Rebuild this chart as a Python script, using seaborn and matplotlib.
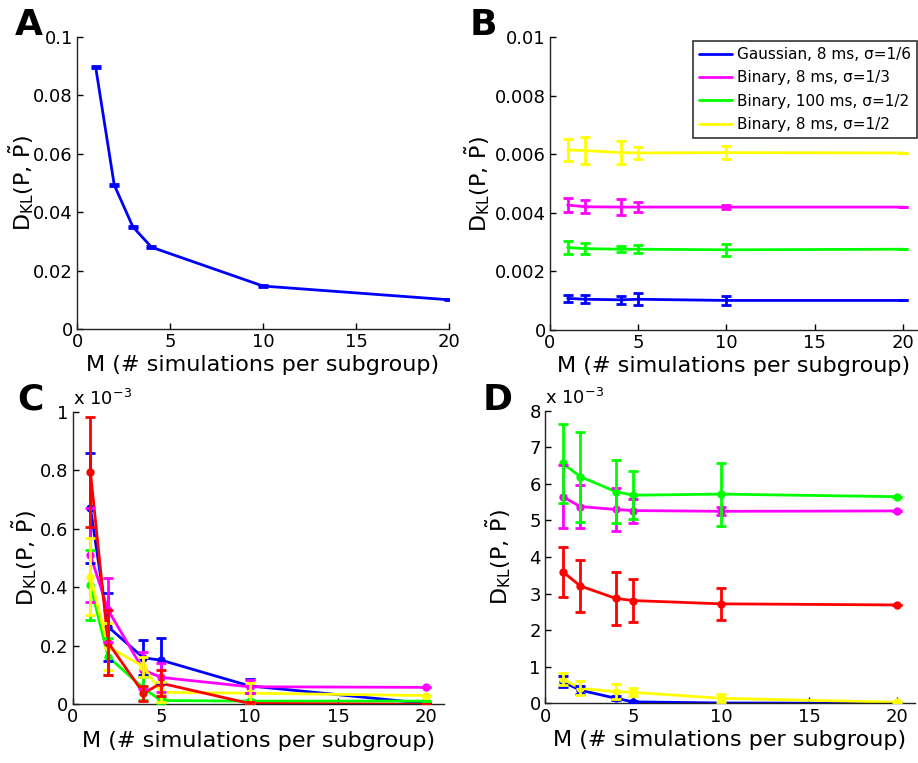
import numpy as np
import pandas as pd
import matplotlib
matplotlib.use('Agg')
import matplotlib.pyplot as plt
import seaborn as sns
from matplotlib.ticker import FuncFormatter

# ---- data ----
# panel A: one series, M = 1..4, 10, 20
a_m = [1, 2, 3, 4, 10, 20]
a_d = [0.0897, 0.0493, 0.0350, 0.0280, 0.0147, 0.0100]
a_err = [0.0004, 0.0003, 0.0003, 0.0003, 0.0002, 0.0001]

# panels B-D share the same M values
m_vals = [1, 2, 4, 5, 10, 20]

names = ['Gaussian, 8 ms, σ=1/6', 'Binary, 8 ms, σ=1/3',
         'Binary, 100 ms, σ=1/2', 'Binary, 8 ms, σ=1/2', 'other']
colors = ['#0000ff', '#ff00ff', '#00ff00', '#ffff00', '#ff0000']

# panel B (four series, no red)
b_d = {
    names[0]: [0.00108, 0.00105, 0.00103, 0.00105, 0.00101, 0.00101],
    names[1]: [0.00427, 0.00421, 0.00420, 0.00420, 0.00420, 0.00420],
    names[2]: [0.00282, 0.00278, 0.00276, 0.00276, 0.00274, 0.00276],
    names[3]: [0.00615, 0.00613, 0.00606, 0.00605, 0.00606, 0.00605],
}
b_err = {
    names[0]: [0.00013, 0.00014, 0.00014, 0.00020, 0.00014, 0.0],
    names[1]: [0.00025, 0.00022, 0.00026, 0.00018, 0.00006, 0.0],
    names[2]: [0.00023, 0.00020, 0.00011, 0.00013, 0.00020, 0.0],
    names[3]: [0.00038, 0.00047, 0.00040, 0.00020, 0.00023, 0.0],
}

# panel C, values in units of 1e-3
c_d = {
    names[0]: [0.672, 0.265, 0.159, 0.151, 0.063, 0.003],
    names[1]: [0.510, 0.322, 0.117, 0.092, 0.060, 0.058],
    names[2]: [0.408, 0.163, 0.055, 0.013, 0.011, 0.011],
    names[3]: [0.436, 0.197, 0.129, 0.041, 0.038, 0.030],
    names[4]: [0.795, 0.211, 0.038, 0.072, 0.003, 0.000],
}
c_err = {
    names[0]: [0.188, 0.117, 0.060, 0.077, 0.023, 0.0],
    names[1]: [0.160, 0.110, 0.063, 0.050, 0.023, 0.0],
    names[2]: [0.120, 0.063, 0.040, 0.008, 0.005, 0.0],
    names[3]: [0.131, 0.080, 0.034, 0.034, 0.034, 0.0],
    names[4]: [0.188, 0.110, 0.025, 0.045, 0.005, 0.0],
}

# panel D, values in units of 1e-3
d_d = {
    names[0]: [0.59, 0.36, 0.14, 0.04, 0.01, 0.00],
    names[1]: [5.65, 5.38, 5.30, 5.27, 5.25, 5.26],
    names[2]: [6.56, 6.20, 5.79, 5.69, 5.72, 5.65],
    names[3]: [0.665, 0.41, 0.32, 0.30, 0.137, 0.03],
    names[4]: [3.60, 3.21, 2.87, 2.81, 2.72, 2.69],
}
d_err = {
    names[0]: [0.15, 0.11, 0.05, 0.02, 0.01, 0.0],
    names[1]: [0.87, 0.60, 0.60, 0.33, 0.11, 0.0],
    names[2]: [1.09, 1.23, 0.87, 0.66, 0.86, 0.0],
    names[3]: [0.16, 0.19, 0.20, 0.11, 0.11, 0.0],
    names[4]: [0.68, 0.71, 0.72, 0.59, 0.43, 0.0],
}

sns.set_style('ticks')
plt.rcParams['font.family'] = ['DejaVu Sans']
plt.rcParams['mathtext.fontset'] = 'dejavusans'
for key in ['text.color', 'axes.labelcolor', 'xtick.color', 'ytick.color']:
    plt.rcParams[key] = 'black'

YLABEL = r'$\mathrm{D_{KL}(P,\,\tilde{P})}$'
XLABEL = 'M (# simulations per subgroup)'


def long_frame(vals, errs, keys):
    rows = []
    for k in keys:
        for m, v, e in zip(m_vals, vals[k], errs[k]):
            rows.append({'M': m, 'D': v, 'err': e, 'series': k})
    return pd.DataFrame(rows)


def draw_panel(ax, df, keys, marker):
    pal = {k: colors[names.index(k)] for k in keys}
    sns.lineplot(data=df, x='M', y='D', hue='series', hue_order=keys,
                 palette=pal, marker=marker, markersize=6, markeredgewidth=0,
                 errorbar=None, legend=False, linewidth=2, ax=ax)
    for i, k in enumerate(keys):
        sub = df[df['series'] == k]
        ax.errorbar(sub['M'], sub['D'], yerr=sub['err'], fmt='none',
                    ecolor=pal[k], elinewidth=2, capsize=3.5, capthick=2,
                    zorder=3 + i)


def style_axes(ax, ypad):
    sns.despine(ax=ax)
    for s in ['left', 'bottom']:
        ax.spines[s].set_linewidth(1)
        ax.spines[s].set_color('#222222')
    ax.tick_params(direction='in', length=4, width=1, labelsize=13, pad=3)
    ax.yaxis.set_major_formatter(FuncFormatter(lambda v, p: '%g' % v))
    ax.set_xlabel(XLABEL, fontsize=16, labelpad=3)
    ax.set_ylabel(YLABEL, fontsize=16, labelpad=ypad)


fig = plt.figure(figsize=(9.18, 7.63), dpi=100)
axA = fig.add_axes([0.0839, 0.5688, 0.4052, 0.3831])
axB = fig.add_axes([0.5991, 0.5675, 0.3998, 0.3836])
axC = fig.add_axes([0.0792, 0.0769, 0.4045, 0.3835])
axD = fig.add_axes([0.5937, 0.0782, 0.4031, 0.3835])

# A
dfA = pd.DataFrame({'M': a_m, 'D': a_d, 'err': a_err, 'series': 'A'})
sns.lineplot(data=dfA, x='M', y='D', color='#0000ff', linewidth=2,
             errorbar=None, ax=axA)
axA.errorbar(a_m, a_d, yerr=a_err, fmt='none', ecolor='#0000ff',
             elinewidth=2, capsize=3.5, capthick=2)
axA.set_xlim(0, 20)
axA.set_ylim(0, 0.1)
axA.set_xticks([0, 5, 10, 15, 20])
axA.set_yticks([0, 0.02, 0.04, 0.06, 0.08, 0.1])
style_axes(axA, -2)

# B
keysB = names[:4]
draw_panel(axB, long_frame(b_d, b_err, keysB), keysB, None)
axB.set_xlim(0, 20.8)
axB.set_ylim(0, 0.01)
axB.set_xticks([0, 5, 10, 15, 20])
axB.set_yticks([0, 0.002, 0.004, 0.006, 0.008, 0.01])
style_axes(axB, 2)
handles = [plt.Line2D([], [], color=colors[i], linewidth=2) for i in range(4)]
leg = axB.legend(handles, keysB, loc='upper right', bbox_to_anchor=(1.0, 0.988),
                 fontsize=11, frameon=True, fancybox=False, edgecolor='black',
                 handlelength=2.2, handletextpad=0.3, labelspacing=0.55,
                 borderpad=0.4, borderaxespad=0)
leg.get_frame().set_linewidth(1.2)

# C
keysC = names
draw_panel(axC, long_frame(c_d, c_err, keysC), keysC, 'o')
axC.set_xlim(0, 21)
axC.set_ylim(0, 1)
axC.set_xticks([0, 5, 10, 15, 20])
axC.set_yticks([0, 0.2, 0.4, 0.6, 0.8, 1])
style_axes(axC, 1)
axC.text(0.0, 1.01, r'x 10$^{-3}$', transform=axC.transAxes,
         fontsize=13, ha='left', va='bottom')

# D
keysD = names
draw_panel(axD, long_frame(d_d, d_err, keysD), keysD, 'o')
axD.set_xlim(0, 21)
axD.set_ylim(0, 8)
axD.set_xticks([0, 5, 10, 15, 20])
axD.set_yticks(range(0, 9))
style_axes(axD, 12)
axD.text(0.0, 1.01, r'x 10$^{-3}$', transform=axD.transAxes,
         fontsize=13, ha='left', va='bottom')

# panel letters
for lbl, x, y in [('A', 0.016, 0.954), ('B', 0.512, 0.954),
                  ('C', 0.019, 0.463), ('D', 0.526, 0.463)]:
    fig.text(x, y, lbl, fontsize=26, fontweight='bold', ha='left',
             va='baseline')

fig.savefig('out.png', dpi=100)
